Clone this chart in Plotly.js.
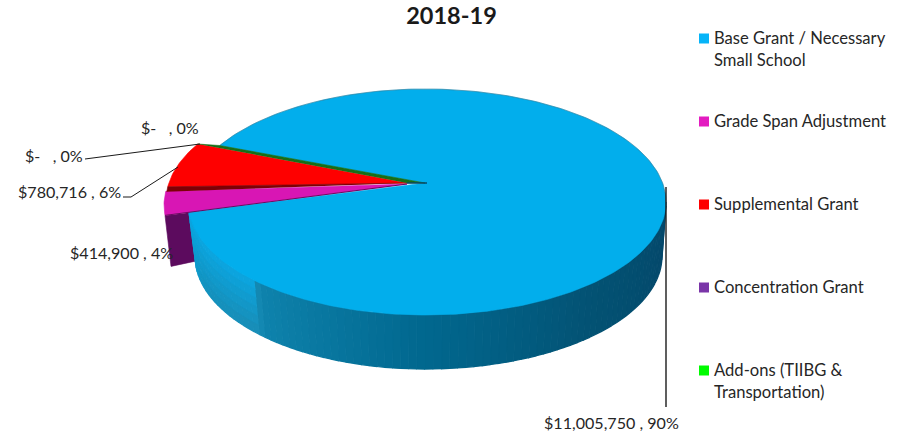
<!DOCTYPE html>
<html>
<head>
<meta charset="utf-8">
<script src="https://cdn.plot.ly/plotly-3.0.1.min.js"></script>
<style>html,body{margin:0;padding:0;background:#fff}</style>
</head>
<body>
<div id="chart" style="width:903px;height:435px"></div>
<script>
// Funding categories and amounts for the 2018-19 year
const categories = [
  "Base Grant / Necessary<br>Small School",
  "Grade Span Adjustment",
  "Supplemental Grant",
  "Concentration Grant",
  "Add-ons (TIIBG &<br>Transportation)"
];
const amounts = [11005750, 414900, 780716, 0, 0];
const percentLabels = [90, 4, 6, 0, 0];
const sliceColors = ["#02aeec", "#d816b4", "#fe0000", "#7030a0", "#176e17"];
const legendColors = ["#06b4f8", "#e31cc0", "#fe0000", "#7a35a8", "#00fb00"];

// Tilted-disc geometry, in the page's pixel frame
const disc = {cx: 425, cy: 202, rxRight: 241, rxLeft: 237, ry: 113, tipY: 183, startDeg: 300};
const base = {cy: 256, ry: 113, rxRight: 237, rxLeft: 230};
const explode = [[0, 0], [-24, 3], [-22, -1.5], [0, 0], [0, 0]];
const tipShift = [[0, 0], [-18, 1], [-18, 0], [0, 0], [0, 0]];

// Rim shading stops, angle clockwise from twelve o'clock
const rimStops = [
  [90, [4, 71, 106]], [135, [3, 82, 115]], [180, [1, 104, 143]],
  [222, [14, 130, 172]], [226, [24, 142, 184]], [250, [20, 146, 190]], [265, [12, 156, 206]]
];
const rimHighlight = [10, 168, 228];
const rimLayers = 6;

const rad = d => d * Math.PI / 180;
const total = amounts.reduce((a, b) => a + b, 0);
const lerp = (p, q, t) => [p[0] + (q[0] - p[0]) * t, p[1] + (q[1] - p[1]) * t];

function topPoint(deg, off) {
  const s = Math.sin(rad(deg));
  const rx = s < 0 ? disc.rxLeft : disc.rxRight;
  return [disc.cx + off[0] + rx * s, disc.cy + off[1] - disc.ry * Math.cos(rad(deg))];
}
function basePoint(deg) {
  const s = Math.sin(rad(deg));
  const rx = s < 0 ? base.rxLeft : base.rxRight;
  return [disc.cx + rx * s, base.cy - base.ry * Math.cos(rad(deg))];
}
function rimColor(deg) {
  for (let i = 1; i < rimStops.length; i++) {
    const [a, ca] = rimStops[i - 1], [b, cb] = rimStops[i];
    if (deg <= b) {
      const t = (deg - a) / (b - a);
      return ca.map((v, k) => v + (cb[k] - v) * t);
    }
  }
  return rimStops[rimStops.length - 1][1];
}
const rgb = c => `rgb(${c.map(Math.round).join(",")})`;

function poly(points, fill, line, width) {
  return {
    type: "scatter", mode: "lines", fill: "toself", fillcolor: fill,
    x: points.map(p => p[0]), y: points.map(p => p[1]),
    line: {color: line || fill, width: width === undefined ? 0.6 : width},
    hoverinfo: "skip", showlegend: false
  };
}
function path(points, color, width) {
  return {
    type: "scatter", mode: "lines",
    x: points.map(p => p[0]), y: points.map(p => p[1]),
    line: {color: color, width: width},
    hoverinfo: "skip", showlegend: false
  };
}

// Cumulative slice angles derived from the amounts
const spans = [];
let running = disc.startDeg;
amounts.forEach(v => {
  const sweep = v / total * 360;
  spans.push([running, running + sweep]);
  running += sweep;
});

const tip = i => [disc.cx + tipShift[i][0], disc.tipY + tipShift[i][1]];
function wedge(i) {
  const off = explode[i];
  const pts = [tip(i)];
  for (let d = spans[i][0]; d < spans[i][1]; d += 1) pts.push(topPoint(d, off));
  pts.push(topPoint(spans[i][1], off));
  pts.push(pts[0]);
  return pts;
}

const traces = [];

// Wall of the small exploded slice, seen through the notch
const pinkOuter = topPoint(spans[1][0], explode[1]);
traces.push(poly([
  pinkOuter,
  [pinkOuter[0] + 6, pinkOuter[1] + 51],
  [pinkOuter[0] + 34, pinkOuter[1] + 45],
  [pinkOuter[0] + 34, pinkOuter[1] - 4]
], "#5c0b5e"));

// Rim of the main slice, drawn as shaded bands from the right side round to the cut.
// Toward the cut the rim also lightens from bottom to top.
const rimEnd = spans[0][1] - 360;
for (let d = 90; d < rimEnd; d += 2) {
  const e = Math.min(d + 2, rimEnd);
  const colour = rimColor(d);
  const a0 = topPoint(d, [0, 0]), a1 = topPoint(e, [0, 0]);
  const b0 = basePoint(d), b1 = basePoint(e);
  if (d < 226) {
    traces.push(poly([a0, a1, b1, b0], rgb(colour), null, 1.3));
  } else {
    for (let k = 0; k < rimLayers; k++) {
      const t0 = k / rimLayers, t1 = (k + 1) / rimLayers;
      const mix = (1 - k / (rimLayers - 1)) * 0.85;
      const c = colour.map((v, n) => v + (rimHighlight[n] - v) * mix);
      traces.push(poly([lerp(a0, b0, t0), lerp(a1, b1, t0), lerp(a1, b1, t1), lerp(a0, b0, t1)], rgb(c), null, 1.3));
    }
  }
}

// Top faces
traces.push(poly(wedge(1), sliceColors[1]));
traces.push(poly(wedge(2), sliceColors[2]));

// Dark sliver where the red slice overhangs the magenta one
const redLow = topPoint(spans[2][0], explode[2]);
traces.push(poly([tip(2), redLow, [redLow[0] - 1, redLow[1] + 5]], "#7d0006"));
traces.push(poly(wedge(0), sliceColors[0]));

// Thin edges on the cut faces
traces.push(path([topPoint(spans[1][0], explode[1]), tip(1)], "#6a0a60", 1));
const redHigh = topPoint(spans[2][1], explode[2]);
const blueStart = topPoint(spans[0][0], explode[0]);
traces.push(poly([redHigh, blueStart, tip(0), tip(2)], sliceColors[4]));
traces.push(path([tip(2), [disc.cx + 2, disc.tipY]], "#074a6e", 1.5));

// Faint outline around the far edge of the disc
const farEdge = [];
for (let d = spans[0][0]; d <= 450; d += 2) farEdge.push(topPoint(d, [0, 0]));
traces.push(path(farEdge, "rgba(90,90,90,0.45)", 0.8));

// Leader lines from slices to their labels
traces.push(path([[85, 159], [200, 144]], "#1a1a1a", 1));
traces.push(path([[123, 197], [131, 197], [178, 167]], "#1a1a1a", 1));
traces.push(path([[666, 187], [666, 407]], "#1a1a1a", 1.4));

// Legend swatches
const legendX = 704, legendTop = 38.5, legendStep = 83;
traces.push({
  type: "scatter", mode: "markers",
  x: categories.map(() => legendX),
  y: categories.map((_, i) => legendTop + i * legendStep),
  marker: {symbol: "square", size: 10, color: legendColors, line: {width: 0}},
  hoverinfo: "skip", showlegend: false
});

const fontFamily = "Lato, 'Open Sans', sans-serif";
const note = (x, y, text, anchor, size) => ({
  x, y, text, xref: "x", yref: "y", showarrow: false,
  xanchor: anchor || "left", yanchor: "middle",
  font: {family: fontFamily, size: size || 16.1, color: "#262626"}
});

const valueLabel = i => {
  const money = amounts[i] === 0 ? "$-\u00A0\u00A0\u00A0" : "$" + amounts[i].toLocaleString("en-US") + "\u00A0";
  return money + ", " + percentLabels[i] + "%";
};

const annotations = [
  note(611.5, 422, valueLabel(0), "center"),
  note(121, 252, valueLabel(1), "center"),
  note(69.5, 191, valueLabel(2), "center"),
  note(170, 127, valueLabel(3), "center"),
  note(54, 155, valueLabel(4), "center")
];
categories.forEach((name, i) => {
  name.split("<br>").forEach((line, k) => {
    annotations.push(note(712, legendTop - 1 + i * legendStep + k * 22, line, "left", 16.6));
  });
});

const layout = {
  width: 903, height: 435,
  margin: {l: 0, r: 0, t: 0, b: 0},
  paper_bgcolor: "#fff", plot_bgcolor: "#fff",
  title: {
    text: "<b>2018-19</b>", x: 0.5, xanchor: "center",
    y: 1 - 16 / 435, yanchor: "middle",
    font: {family: fontFamily, size: 23.5, color: "#1a1a1a"}
  },
  xaxis: {range: [0, 903], visible: false, fixedrange: true},
  yaxis: {range: [435, 0], visible: false, fixedrange: true},
  showlegend: false,
  annotations: annotations
};

Plotly.newPlot("chart", traces, layout, {displayModeBar: false, staticPlot: true});
</script>
</body>
</html>
